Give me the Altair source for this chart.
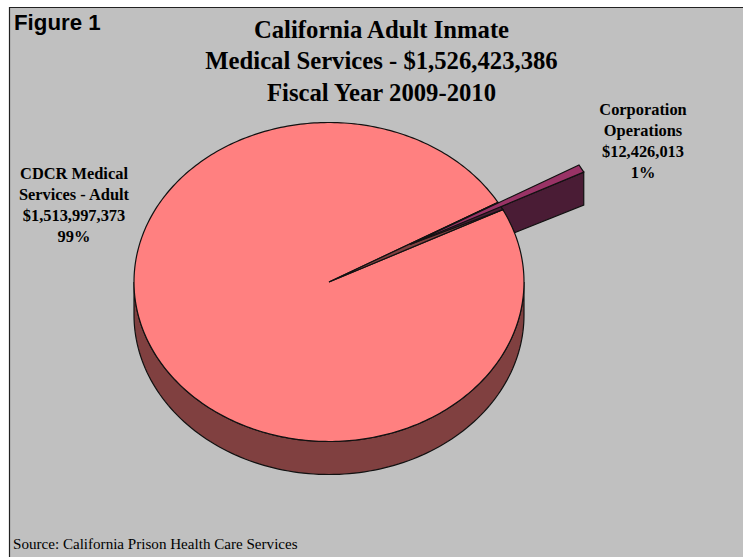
import math
import altair as alt
import pandas as pd

# Budget figures for the two slices
slice_names = ["CDCR Medical Services - Adult", "Corporation Operations"]
slice_values = [1513997373, 12426013]
total_value = 1526423386

title_lines = ["California Adult Inmate", "Medical Services - $1,526,423,386", "Fiscal Year 2009-2010"]
left_label = ["CDCR Medical", "Services - Adult", "$1,513,997,373", "99%"]
right_label = ["Corporation", "Operations", "$12,426,013", "1%"]

W, H = 743, 557
CX, CY, RX, RY = 329.0, 282.0, 195.0, 159.5
DEPTH = 33.0
START_DEG = 27.0
EXPLODE = (81.0, -37.5)

share = slice_values[1] / sum(slice_values)
END_DEG = START_DEG + share * 360


def rim(deg, dx=0.0, dy=0.0):
    a = math.radians(deg)
    return (CX + RX * math.cos(a) + dx, CY - RY * math.sin(a) + dy)


def arc(d0, d1, steps, dx=0.0, dy=0.0):
    return [rim(d0 + (d1 - d0) * i / steps, dx, dy) for i in range(steps + 1)]


ex, ey = EXPLODE
a0 = rim(START_DEG)
a1 = rim(END_DEG)
s0 = rim(START_DEG, ex, ey)
s1 = rim(END_DEG, ex, ey)
apex = (CX + ex, CY + ey)

shapes = [
    # cylinder wall under the large slice
    ("#804040", arc(180, 360, 120) + arc(360, 180, 120, 0, DEPTH)),
    # outer wall of the pulled-out slice, tucked behind the large slice
    ("#4A1C35", [s0, (s0[0], s0[1] + DEPTH), rim(18), a0, apex]),
    # top face of the large slice, with the small slice cut out
    ("#FF8080", [(CX, CY)] + arc(END_DEG, 360 + START_DEG, 360)),
    # inner wall visible through the cut
    ("#804040", [(CX, CY), a1, a0]),
    # side of the pulled-out slice seen through the cut
    ("#4A1C35", [apex, a0, a1]),
    # top face of the pulled-out slice
    ("#993366", [apex, s1, s0]),
]

rows = []
for sid, (color, pts) in enumerate(shapes):
    for i, (x, y) in enumerate(pts):
        rows.append({"sid": sid, "i": i, "x": x, "y": y, "fill": color})
df = pd.DataFrame(rows)

xs = alt.Scale(domain=[0, W], nice=False, zero=False)
ys = alt.Scale(domain=[H, 0], nice=False, zero=False)


def shape_layer(sid, color):
    return (
        alt.Chart(df[df.sid == sid])
        .mark_line(interpolate="linear-closed", fill=color, stroke="#111111", strokeWidth=1.2)
        .encode(
            x=alt.X("x:Q", scale=xs, axis=None),
            y=alt.Y("y:Q", scale=ys, axis=None),
            order="i:Q",
        )
    )


panel = (
    alt.Chart(pd.DataFrame({"x": [9.5], "x2": [760], "y": [7.5], "y2": [570]}))
    .mark_rect(fill="#C0C0C0", stroke="#222222", strokeWidth=1.2, clip=True)
    .encode(
        x=alt.X("x:Q", scale=xs, axis=None),
        x2="x2:Q",
        y=alt.Y("y:Q", scale=ys, axis=None),
        y2="y2:Q",
    )
)


def text_block(lines, cx, top, step, size, font="Liberation Serif", align="center", weight="bold", color="#000000"):
    d = pd.DataFrame({"t": lines, "x": [cx] * len(lines), "y": [top + step * i for i in range(len(lines))]})
    return (
        alt.Chart(d)
        .mark_text(font=font, fontSize=size, fontWeight=weight, align=align, baseline="alphabetic", color=color)
        .encode(x=alt.X("x:Q", scale=xs, axis=None), y=alt.Y("y:Q", scale=ys, axis=None), text="t:N")
    )


layers = [panel] + [shape_layer(i, s[0]) for i, s in enumerate(shapes)]
layers += [
    text_block(title_lines, 381.5, 37.5, 31.5, 24.7),
    text_block(left_label, 74, 179, 21, 16.4),
    text_block(right_label, 643, 115, 21, 16.4),
    text_block(["Figure 1"], 14, 30, 0, 22.3, font="Liberation Sans", align="left"),
    text_block(["Source: California Prison Health Care Services"], 13, 549, 0, 15.1, align="left", weight="normal"),
]

chart = (
    alt.layer(*layers)
    .properties(width=W, height=H, padding=0, autosize=alt.AutoSizeParams(type="none"), background="white")
    .configure_view(stroke=None)
)

chart.save("out.html", embed_options={"renderer": "svg", "actions": False})
